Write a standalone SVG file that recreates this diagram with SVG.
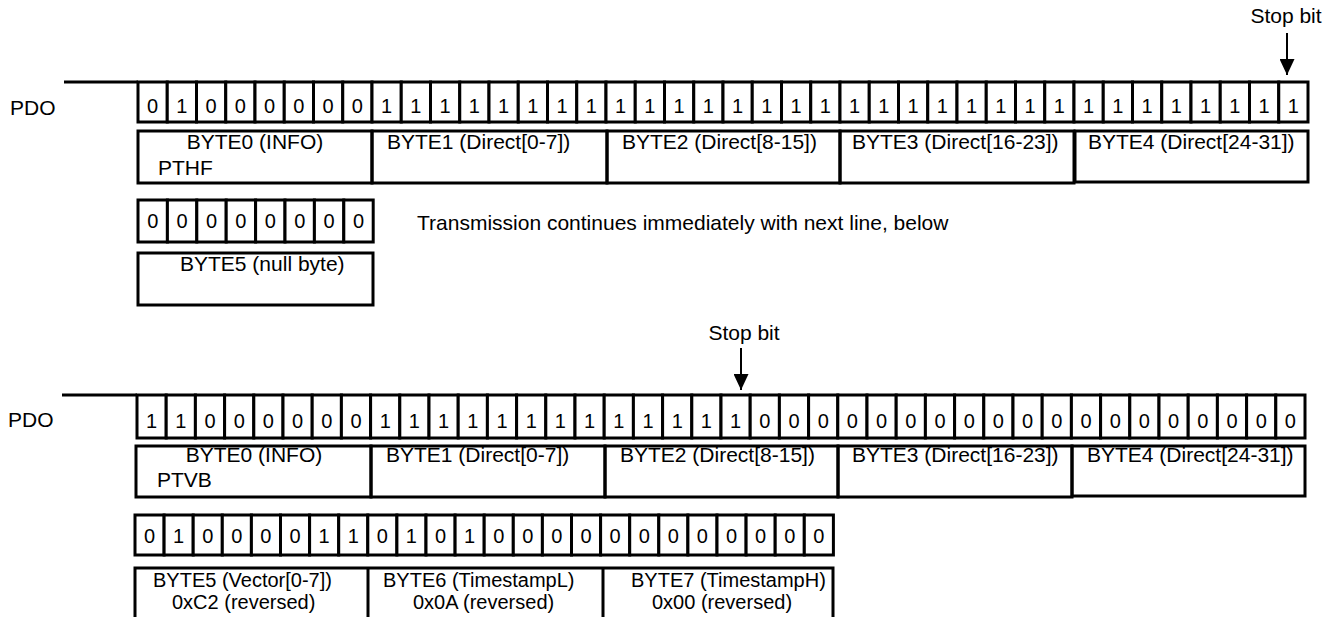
<svg xmlns="http://www.w3.org/2000/svg" width="1338" height="617" viewBox="0 0 1338 617">
<defs>
<style>
.t{font-family:"Liberation Sans",Arial,sans-serif;font-size:21px;fill:#000}
.s{font-family:"Liberation Sans",Arial,sans-serif;font-size:20px;fill:#000}
.b{font-family:"Liberation Sans",Arial,sans-serif;font-size:20px;fill:#000;text-anchor:middle}
.c{fill:#fff;stroke:#000;stroke-width:3}
.bx{fill:none;stroke:#000;stroke-width:3}
.ln{stroke:#000;stroke-width:3;fill:none}
.ar{stroke:#000;stroke-width:2;fill:none}
</style>
<marker id="ah" viewBox="0 0 16 15" refX="16" refY="7.5" markerWidth="16" markerHeight="15" markerUnits="userSpaceOnUse" orient="auto">
<path d="M0,0 L16,7.5 L0,15 Z" fill="#000"/>
</marker>
</defs>
<rect width="1338" height="617" fill="#fff"/>

<g id="row1-label">
<text class="t" x="10" y="115">PDO</text>
<line class="ln" x1="64" y1="82" x2="138" y2="82"/>
</g>

<g id="row1-bits">
<rect class="c" x="138" y="82" width="29.25" height="40"/><text class="b" x="152.6" y="113">0</text>
<rect class="c" x="167.25" y="82" width="29.25" height="40"/><text class="b" x="181.9" y="113">1</text>
<rect class="c" x="196.5" y="82" width="29.25" height="40"/><text class="b" x="211.1" y="113">0</text>
<rect class="c" x="225.75" y="82" width="29.25" height="40"/><text class="b" x="240.4" y="113">0</text>
<rect class="c" x="255" y="82" width="29.25" height="40"/><text class="b" x="269.6" y="113">0</text>
<rect class="c" x="284.25" y="82" width="29.25" height="40"/><text class="b" x="298.9" y="113">0</text>
<rect class="c" x="313.5" y="82" width="29.25" height="40"/><text class="b" x="328.1" y="113">0</text>
<rect class="c" x="342.75" y="82" width="29.25" height="40"/><text class="b" x="357.4" y="113">0</text>
<rect class="c" x="372" y="82" width="29.25" height="40"/><text class="b" x="386.6" y="113">1</text>
<rect class="c" x="401.25" y="82" width="29.25" height="40"/><text class="b" x="415.9" y="113">1</text>
<rect class="c" x="430.5" y="82" width="29.25" height="40"/><text class="b" x="445.1" y="113">1</text>
<rect class="c" x="459.75" y="82" width="29.25" height="40"/><text class="b" x="474.4" y="113">1</text>
<rect class="c" x="489" y="82" width="29.25" height="40"/><text class="b" x="503.6" y="113">1</text>
<rect class="c" x="518.25" y="82" width="29.25" height="40"/><text class="b" x="532.9" y="113">1</text>
<rect class="c" x="547.5" y="82" width="29.25" height="40"/><text class="b" x="562.1" y="113">1</text>
<rect class="c" x="576.75" y="82" width="29.25" height="40"/><text class="b" x="591.4" y="113">1</text>
<rect class="c" x="606" y="82" width="29.25" height="40"/><text class="b" x="620.6" y="113">1</text>
<rect class="c" x="635.25" y="82" width="29.25" height="40"/><text class="b" x="649.9" y="113">1</text>
<rect class="c" x="664.5" y="82" width="29.25" height="40"/><text class="b" x="679.1" y="113">1</text>
<rect class="c" x="693.75" y="82" width="29.25" height="40"/><text class="b" x="708.4" y="113">1</text>
<rect class="c" x="723" y="82" width="29.25" height="40"/><text class="b" x="737.6" y="113">1</text>
<rect class="c" x="752.25" y="82" width="29.25" height="40"/><text class="b" x="766.9" y="113">1</text>
<rect class="c" x="781.5" y="82" width="29.25" height="40"/><text class="b" x="796.1" y="113">1</text>
<rect class="c" x="810.75" y="82" width="29.25" height="40"/><text class="b" x="825.4" y="113">1</text>
<rect class="c" x="840" y="82" width="29.25" height="40"/><text class="b" x="854.6" y="113">1</text>
<rect class="c" x="869.25" y="82" width="29.25" height="40"/><text class="b" x="883.9" y="113">1</text>
<rect class="c" x="898.5" y="82" width="29.25" height="40"/><text class="b" x="913.1" y="113">1</text>
<rect class="c" x="927.75" y="82" width="29.25" height="40"/><text class="b" x="942.4" y="113">1</text>
<rect class="c" x="957" y="82" width="29.25" height="40"/><text class="b" x="971.6" y="113">1</text>
<rect class="c" x="986.25" y="82" width="29.25" height="40"/><text class="b" x="1000.9" y="113">1</text>
<rect class="c" x="1015.5" y="82" width="29.25" height="40"/><text class="b" x="1030.1" y="113">1</text>
<rect class="c" x="1044.75" y="82" width="29.25" height="40"/><text class="b" x="1059.4" y="113">1</text>
<rect class="c" x="1074" y="82" width="29.25" height="40"/><text class="b" x="1088.6" y="113">1</text>
<rect class="c" x="1103.25" y="82" width="29.25" height="40"/><text class="b" x="1117.9" y="113">1</text>
<rect class="c" x="1132.5" y="82" width="29.25" height="40"/><text class="b" x="1147.1" y="113">1</text>
<rect class="c" x="1161.75" y="82" width="29.25" height="40"/><text class="b" x="1176.4" y="113">1</text>
<rect class="c" x="1191" y="82" width="29.25" height="40"/><text class="b" x="1205.6" y="113">1</text>
<rect class="c" x="1220.25" y="82" width="29.25" height="40"/><text class="b" x="1234.9" y="113">1</text>
<rect class="c" x="1249.5" y="82" width="29.25" height="40"/><text class="b" x="1264.1" y="113">1</text>
<rect class="c" x="1278.75" y="82" width="29.25" height="40"/><text class="b" x="1293.4" y="113">1</text>
</g>

<g id="row1-bytes">
<rect class="bx" x="138" y="131" width="234" height="52"/>
<rect class="bx" x="372" y="131" width="235" height="52"/>
<rect class="bx" x="607" y="131" width="233" height="52"/>
<rect class="bx" x="840" y="131" width="234" height="52"/>
<rect class="bx" x="1075" y="131" width="233" height="51"/>
<text class="t" x="255" y="149" text-anchor="middle">BYTE0 (INFO)</text>
<text class="t" x="158" y="175">PTHF</text>
<text class="t" x="387" y="149">BYTE1 (Direct[0-7])</text>
<text class="t" x="622" y="149">BYTE2 (Direct[8-15])</text>
<text class="t" x="852" y="149">BYTE3 (Direct[16-23])</text>
<text class="t" x="1088" y="149">BYTE4 (Direct[24-31])</text>
</g>

<g id="null-byte">
<rect class="c" x="138" y="200" width="29.4" height="42"/><text class="b" x="152.7" y="228">0</text>
<rect class="c" x="167.4" y="200" width="29.4" height="42"/><text class="b" x="182.1" y="228">0</text>
<rect class="c" x="196.8" y="200" width="29.4" height="42"/><text class="b" x="211.5" y="228">0</text>
<rect class="c" x="226.2" y="200" width="29.4" height="42"/><text class="b" x="240.9" y="228">0</text>
<rect class="c" x="255.6" y="200" width="29.4" height="42"/><text class="b" x="270.3" y="228">0</text>
<rect class="c" x="285" y="200" width="29.4" height="42"/><text class="b" x="299.7" y="228">0</text>
<rect class="c" x="314.4" y="200" width="29.4" height="42"/><text class="b" x="329.1" y="228">0</text>
<rect class="c" x="343.8" y="200" width="29.4" height="42"/><text class="b" x="358.5" y="228">0</text>
<rect class="bx" x="138" y="253" width="235" height="52"/>
<text class="t" x="180" y="271">BYTE5 (null byte)</text>
</g>

<g id="note">
<text class="t" x="417" y="230">Transmission continues immediately with next line, below</text>
</g>

<g id="row2-label">
<text class="t" x="8" y="427">PDO</text>
<line class="ln" x1="62" y1="395" x2="137" y2="395"/>
</g>

<g id="row2-bits">
<rect class="c" x="137" y="395" width="29.2" height="43"/><text class="b" x="151.6" y="428">1</text>
<rect class="c" x="166.2" y="395" width="29.2" height="43"/><text class="b" x="180.8" y="428">1</text>
<rect class="c" x="195.4" y="395" width="29.2" height="43"/><text class="b" x="210" y="428">0</text>
<rect class="c" x="224.6" y="395" width="29.2" height="43"/><text class="b" x="239.2" y="428">0</text>
<rect class="c" x="253.8" y="395" width="29.2" height="43"/><text class="b" x="268.4" y="428">0</text>
<rect class="c" x="283" y="395" width="29.2" height="43"/><text class="b" x="297.6" y="428">0</text>
<rect class="c" x="312.2" y="395" width="29.2" height="43"/><text class="b" x="326.8" y="428">0</text>
<rect class="c" x="341.4" y="395" width="29.2" height="43"/><text class="b" x="356" y="428">0</text>
<rect class="c" x="370.6" y="395" width="29.2" height="43"/><text class="b" x="385.2" y="428">1</text>
<rect class="c" x="399.8" y="395" width="29.2" height="43"/><text class="b" x="414.4" y="428">1</text>
<rect class="c" x="429" y="395" width="29.2" height="43"/><text class="b" x="443.6" y="428">1</text>
<rect class="c" x="458.2" y="395" width="29.2" height="43"/><text class="b" x="472.8" y="428">1</text>
<rect class="c" x="487.4" y="395" width="29.2" height="43"/><text class="b" x="502" y="428">1</text>
<rect class="c" x="516.6" y="395" width="29.2" height="43"/><text class="b" x="531.2" y="428">1</text>
<rect class="c" x="545.8" y="395" width="29.2" height="43"/><text class="b" x="560.4" y="428">1</text>
<rect class="c" x="575" y="395" width="29.2" height="43"/><text class="b" x="589.6" y="428">1</text>
<rect class="c" x="604.2" y="395" width="29.2" height="43"/><text class="b" x="618.8" y="428">1</text>
<rect class="c" x="633.4" y="395" width="29.2" height="43"/><text class="b" x="648" y="428">1</text>
<rect class="c" x="662.6" y="395" width="29.2" height="43"/><text class="b" x="677.2" y="428">1</text>
<rect class="c" x="691.8" y="395" width="29.2" height="43"/><text class="b" x="706.4" y="428">1</text>
<rect class="c" x="721" y="395" width="29.2" height="43"/><text class="b" x="735.6" y="428">1</text>
<rect class="c" x="750.2" y="395" width="29.2" height="43"/><text class="b" x="764.8" y="428">0</text>
<rect class="c" x="779.4" y="395" width="29.2" height="43"/><text class="b" x="794" y="428">0</text>
<rect class="c" x="808.6" y="395" width="29.2" height="43"/><text class="b" x="823.2" y="428">0</text>
<rect class="c" x="837.8" y="395" width="29.2" height="43"/><text class="b" x="852.4" y="428">0</text>
<rect class="c" x="867" y="395" width="29.2" height="43"/><text class="b" x="881.6" y="428">0</text>
<rect class="c" x="896.2" y="395" width="29.2" height="43"/><text class="b" x="910.8" y="428">0</text>
<rect class="c" x="925.4" y="395" width="29.2" height="43"/><text class="b" x="940" y="428">0</text>
<rect class="c" x="954.6" y="395" width="29.2" height="43"/><text class="b" x="969.2" y="428">0</text>
<rect class="c" x="983.8" y="395" width="29.2" height="43"/><text class="b" x="998.4" y="428">0</text>
<rect class="c" x="1013" y="395" width="29.2" height="43"/><text class="b" x="1027.6" y="428">0</text>
<rect class="c" x="1042.2" y="395" width="29.2" height="43"/><text class="b" x="1056.8" y="428">0</text>
<rect class="c" x="1071.4" y="395" width="29.2" height="43"/><text class="b" x="1086" y="428">0</text>
<rect class="c" x="1100.6" y="395" width="29.2" height="43"/><text class="b" x="1115.2" y="428">0</text>
<rect class="c" x="1129.8" y="395" width="29.2" height="43"/><text class="b" x="1144.4" y="428">0</text>
<rect class="c" x="1159" y="395" width="29.2" height="43"/><text class="b" x="1173.6" y="428">0</text>
<rect class="c" x="1188.2" y="395" width="29.2" height="43"/><text class="b" x="1202.8" y="428">0</text>
<rect class="c" x="1217.4" y="395" width="29.2" height="43"/><text class="b" x="1232" y="428">0</text>
<rect class="c" x="1246.6" y="395" width="29.2" height="43"/><text class="b" x="1261.2" y="428">0</text>
<rect class="c" x="1275.8" y="395" width="29.2" height="43"/><text class="b" x="1290.4" y="428">0</text>
</g>

<g id="row2-bytes">
<rect class="bx" x="136" y="446" width="235" height="51"/>
<rect class="bx" x="371" y="446" width="234" height="51"/>
<rect class="bx" x="605" y="446" width="233" height="51"/>
<rect class="bx" x="838" y="446" width="234" height="51"/>
<rect class="bx" x="1072" y="446" width="233" height="50"/>
<text class="t" x="254" y="461.5" text-anchor="middle">BYTE0 (INFO)</text>
<text class="t" x="157" y="487">PTVB</text>
<text class="t" x="386" y="461.5">BYTE1 (Direct[0-7])</text>
<text class="t" x="620" y="461.5">BYTE2 (Direct[8-15])</text>
<text class="t" x="852" y="461.5">BYTE3 (Direct[16-23])</text>
<text class="t" x="1087" y="461.5">BYTE4 (Direct[24-31])</text>
</g>

<g id="row3-bits">
<rect class="c" x="135" y="515" width="29.1" height="40"/><text class="b" x="149.5" y="543">0</text>
<rect class="c" x="164.1" y="515" width="29.1" height="40"/><text class="b" x="178.6" y="543">1</text>
<rect class="c" x="193.2" y="515" width="29.1" height="40"/><text class="b" x="207.7" y="543">0</text>
<rect class="c" x="222.3" y="515" width="29.1" height="40"/><text class="b" x="236.8" y="543">0</text>
<rect class="c" x="251.4" y="515" width="29.1" height="40"/><text class="b" x="265.9" y="543">0</text>
<rect class="c" x="280.5" y="515" width="29.1" height="40"/><text class="b" x="295" y="543">0</text>
<rect class="c" x="309.6" y="515" width="29.1" height="40"/><text class="b" x="324.1" y="543">1</text>
<rect class="c" x="338.7" y="515" width="29.1" height="40"/><text class="b" x="353.2" y="543">1</text>
<rect class="c" x="367.8" y="515" width="29.1" height="40"/><text class="b" x="382.3" y="543">0</text>
<rect class="c" x="396.9" y="515" width="29.1" height="40"/><text class="b" x="411.4" y="543">1</text>
<rect class="c" x="426" y="515" width="29.1" height="40"/><text class="b" x="440.5" y="543">0</text>
<rect class="c" x="455.1" y="515" width="29.1" height="40"/><text class="b" x="469.6" y="543">1</text>
<rect class="c" x="484.2" y="515" width="29.1" height="40"/><text class="b" x="498.7" y="543">0</text>
<rect class="c" x="513.3" y="515" width="29.1" height="40"/><text class="b" x="527.8" y="543">0</text>
<rect class="c" x="542.4" y="515" width="29.1" height="40"/><text class="b" x="556.9" y="543">0</text>
<rect class="c" x="571.5" y="515" width="29.1" height="40"/><text class="b" x="586" y="543">0</text>
<rect class="c" x="600.6" y="515" width="29.1" height="40"/><text class="b" x="615.1" y="543">0</text>
<rect class="c" x="629.7" y="515" width="29.1" height="40"/><text class="b" x="644.2" y="543">0</text>
<rect class="c" x="658.8" y="515" width="29.1" height="40"/><text class="b" x="673.3" y="543">0</text>
<rect class="c" x="687.9" y="515" width="29.1" height="40"/><text class="b" x="702.4" y="543">0</text>
<rect class="c" x="717" y="515" width="29.1" height="40"/><text class="b" x="731.5" y="543">0</text>
<rect class="c" x="746.1" y="515" width="29.1" height="40"/><text class="b" x="760.6" y="543">0</text>
<rect class="c" x="775.2" y="515" width="29.1" height="40"/><text class="b" x="789.7" y="543">0</text>
<rect class="c" x="804.3" y="515" width="29.1" height="40"/><text class="b" x="818.8" y="543">0</text>
</g>

<g id="row3-bytes">
<path class="bx" d="M135,620 V568 H833 V620 M368,568 V620 M603,568 V620"/>
<text class="s" x="153" y="587">BYTE5 (Vector[0-7])</text>
<text class="s" x="172" y="609">0xC2 (reversed)</text>
<text class="s" x="383" y="587">BYTE6 (TimestampL)</text>
<text class="s" x="413" y="609">0x0A (reversed)</text>
<text class="s" x="631" y="587">BYTE7 (TimestampH)</text>
<text class="s" x="652" y="609">0x00 (reversed)</text>
</g>

<g id="stop-labels">
<text class="t" x="1286" y="23" text-anchor="middle">Stop bit</text>
<text class="t" x="744" y="340" text-anchor="middle">Stop bit</text>
</g>

<g id="connectors">
<line class="ar" x1="1287" y1="33" x2="1287" y2="75" marker-end="url(#ah)"/>
<line class="ar" x1="741" y1="348" x2="741" y2="390" marker-end="url(#ah)"/>
</g>
</svg>
